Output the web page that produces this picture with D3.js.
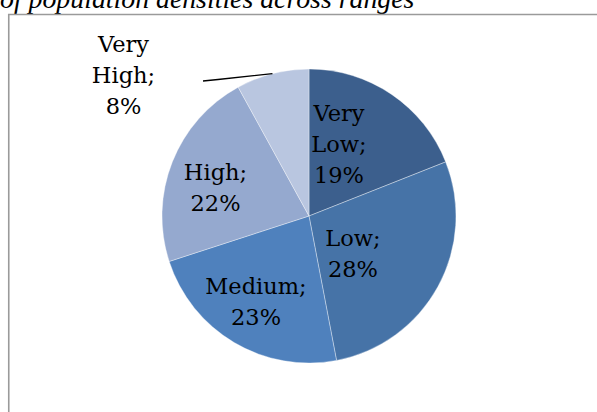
<!DOCTYPE html>
<html>
<head>
<meta charset="utf-8">
<script src="https://cdn.jsdelivr.net/npm/d3@7"></script>
<style>
  html, body { margin: 0; padding: 0; background: #fff; }
  svg { display: block; }
</style>
</head>
<body>
<svg id="chart" width="597" height="412"></svg>
<script>
// Share of sites in each population-density range (percent)
const categories = ["Very Low", "Low", "Medium", "High", "Very High"];
const shares = [19, 28, 23, 22, 8];
const sliceColors = ["#3C5F8D", "#4673A7", "#4F81BD", "#95A9CF", "#B9C6E0"];
const titleText = "of population densities across ranges";

const width = 597, height = 412;
const cx = 309, cy = 216, radius = 147;

// Where each data label block sits, relative to the pie centre
const labelOffset = {
  "Very Low":  [30, -64],
  "Low":       [44, 45],
  "Medium":    [-53, 93.5],
  "High":      [-93.5, -20.5],
  "Very High": [-185.5, -133.5]
};
const outsideLabels = new Set(["Very High"]);
const lineStep = 31;

const svg = d3.select("#chart");

// Title (only its last line fits above the frame)
svg.append("text")
  .attr("x", 0)
  .attr("y", 7.5)
  .attr("font-family", "'Liberation Serif', serif")
  .attr("font-style", "italic")
  .attr("font-size", 27.8)
  .attr("fill", "#000")
  .text(titleText);

// Chart frame: left and top edges
svg.append("path")
  .attr("d", `M8.75,${height} V14.5 H${width}`)
  .attr("fill", "none")
  .attr("stroke", "#9a9a9a")
  .attr("stroke-width", 1.6);

const pie = d3.pie()
  .sort(null)
  .value(d => d.value)
  .startAngle(0)
  .endAngle(2 * Math.PI);

const data = categories.map((c, i) => ({ category: c, value: shares[i], color: sliceColors[i] }));
const arcs = pie(data);

const arc = d3.arc().innerRadius(0).outerRadius(radius);
const edgeArc = d3.arc().innerRadius(radius).outerRadius(radius);

const g = svg.append("g").attr("transform", `translate(${cx},${cy})`);

g.selectAll("path.slice")
  .data(arcs)
  .enter()
  .append("path")
  .attr("class", "slice")
  .attr("d", arc)
  .attr("fill", d => d.data.color)
  .attr("stroke", "rgba(255,255,255,0.45)")
  .attr("stroke-width", 0.8);

// Leader lines for labels placed outside the pie
arcs.filter(d => outsideLabels.has(d.data.category)).forEach(d => {
  const [ex, ey] = edgeArc.centroid(d);
  const [ox, oy] = labelOffset[d.data.category];
  const start = [ox + 79.5, oy - 1.5];
  const bend = [start[0] + 15, start[1] - 1.5];
  g.append("path")
    .attr("d", d3.line()([start, bend, [ex, ey]]))
    .attr("fill", "none")
    .attr("stroke", "#000")
    .attr("stroke-width", 1.3);
});

// Data labels: "Category; NN%" wrapped word by word
arcs.forEach(d => {
  const words = d.data.category.split(" ");
  words[words.length - 1] += ";";
  const lines = words.concat([d.data.value + "%"]);
  const [ox, oy] = labelOffset[d.data.category];
  const t = g.append("text")
    .attr("text-anchor", "middle")
    .attr("font-family", "'DejaVu Serif', serif")
    .attr("font-size", 22.5)
    .attr("fill", "#000");
  lines.forEach((ln, i) => {
    t.append("tspan")
      .attr("x", ox)
      .attr("y", oy + (i - (lines.length - 1) / 2) * lineStep)
      .text(ln);
  });
});
</script>
</body>
</html>
